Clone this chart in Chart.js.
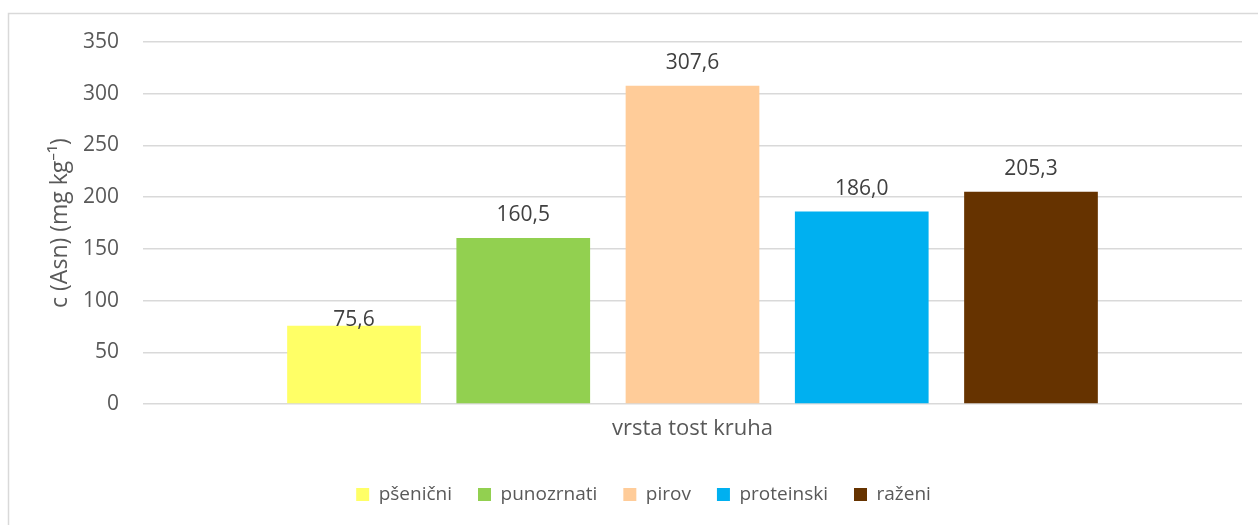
<!DOCTYPE html>
<html>
<head>
<meta charset="utf-8">
<script src="https://cdn.jsdelivr.net/npm/chart.js@4/dist/chart.umd.min.js"></script>
<style>
  html, body { margin: 0; padding: 0; background: #fff; }
  #wrap { position: relative; width: 1258px; height: 525px; }
</style>
</head>
<body>
<div id="wrap"><canvas id="chart" width="1258" height="525"></canvas></div>
<script>
// podaci
const categories = ["vrsta tost kruha"];
const seriesNames = ["pšenični", "punozrnati", "pirov", "proteinski", "raženi"];
const seriesValues = [75.6, 160.5, 307.6, 186.0, 205.3];
const yTicks = [0, 50, 100, 150, 200, 250, 300, 350];

const seriesColors = ["#FFFF66", "#92D050", "#FFCC99", "#00B0F0", "#663300"];
// prva oznaka je u originalu spuštena na vrh stupca
const labelShift = [17, 0, 0, 0, 0];
const FONT = "'Open Sans', 'Noto Sans', sans-serif";

// okvir oko grafikona
const frame = {
  id: "frame",
  beforeDraw(chart) {
    const ctx = chart.ctx;
    ctx.save();
    ctx.strokeStyle = "#d9d9d9";
    ctx.lineWidth = 1.5;
    ctx.strokeRect(8.5, 13.5, 1400, 700);
    ctx.restore();
  },
};

// vrijednosti iznad stupaca
const valueLabels = {
  id: "valueLabels",
  afterDatasetsDraw(chart) {
    const ctx = chart.ctx;
    ctx.save();
    ctx.font = "21px " + FONT;
    ctx.fillStyle = "#404040";
    ctx.textAlign = "center";
    ctx.textBaseline = "bottom";
    chart.data.datasets.forEach((ds, i) => {
      const bar = chart.getDatasetMeta(i).data[0];
      const txt = ds.data[0].toFixed(1).replace(".", ",");
      ctx.fillText(txt, bar.x, bar.y - 12 + labelShift[i]);
    });
    ctx.restore();
  },
};

const datasets = seriesNames.map((name, i) => ({
  label: name,
  data: [seriesValues[i]],
  backgroundColor: seriesColors[i],
  categoryPercentage: 0.77,
  barPercentage: 0.79,
}));

new Chart(document.getElementById("chart"), {
  type: "bar",
  data: { labels: categories, datasets: datasets },
  plugins: [frame, valueLabels],
  options: {
    responsive: false,
    animation: false,
    layout: { padding: { left: 45, right: 16, top: 42, bottom: 11 } },
    plugins: {
      tooltip: { enabled: false },
      legend: {
        position: "bottom",
        labels: {
          boxWidth: 13,
          boxHeight: 13,
          padding: 26,
          color: "#595959",
          font: { family: FONT, size: 19 },
        },
      },
    },
    scales: {
      x: {
        afterFit(scale) {
          scale.height = 55;
        },
        grid: { display: false },
        border: { display: false },
        ticks: { color: "#595959", padding: 4, font: { family: FONT, size: 22 } },
      },
      y: {
        min: 0,
        max: 350,
        afterBuildTicks(scale) {
          scale.ticks = yTicks.map((v) => ({ value: v }));
        },
        afterFit(scale) {
          scale.width = 98;
        },
        grid: { color: "#d9d9d9", lineWidth: 1.5, drawTicks: false },
        border: { display: false },
        ticks: { color: "#595959", padding: 24, font: { family: FONT, size: 21 } },
        title: {
          display: true,
          text: "c (Asn) (mg kg⁻¹)",
          color: "#595959",
          padding: { top: 2, bottom: 0 },
          font: { family: FONT, size: 23 },
        },
      },
    },
  },
});
</script>
</body>
</html>
